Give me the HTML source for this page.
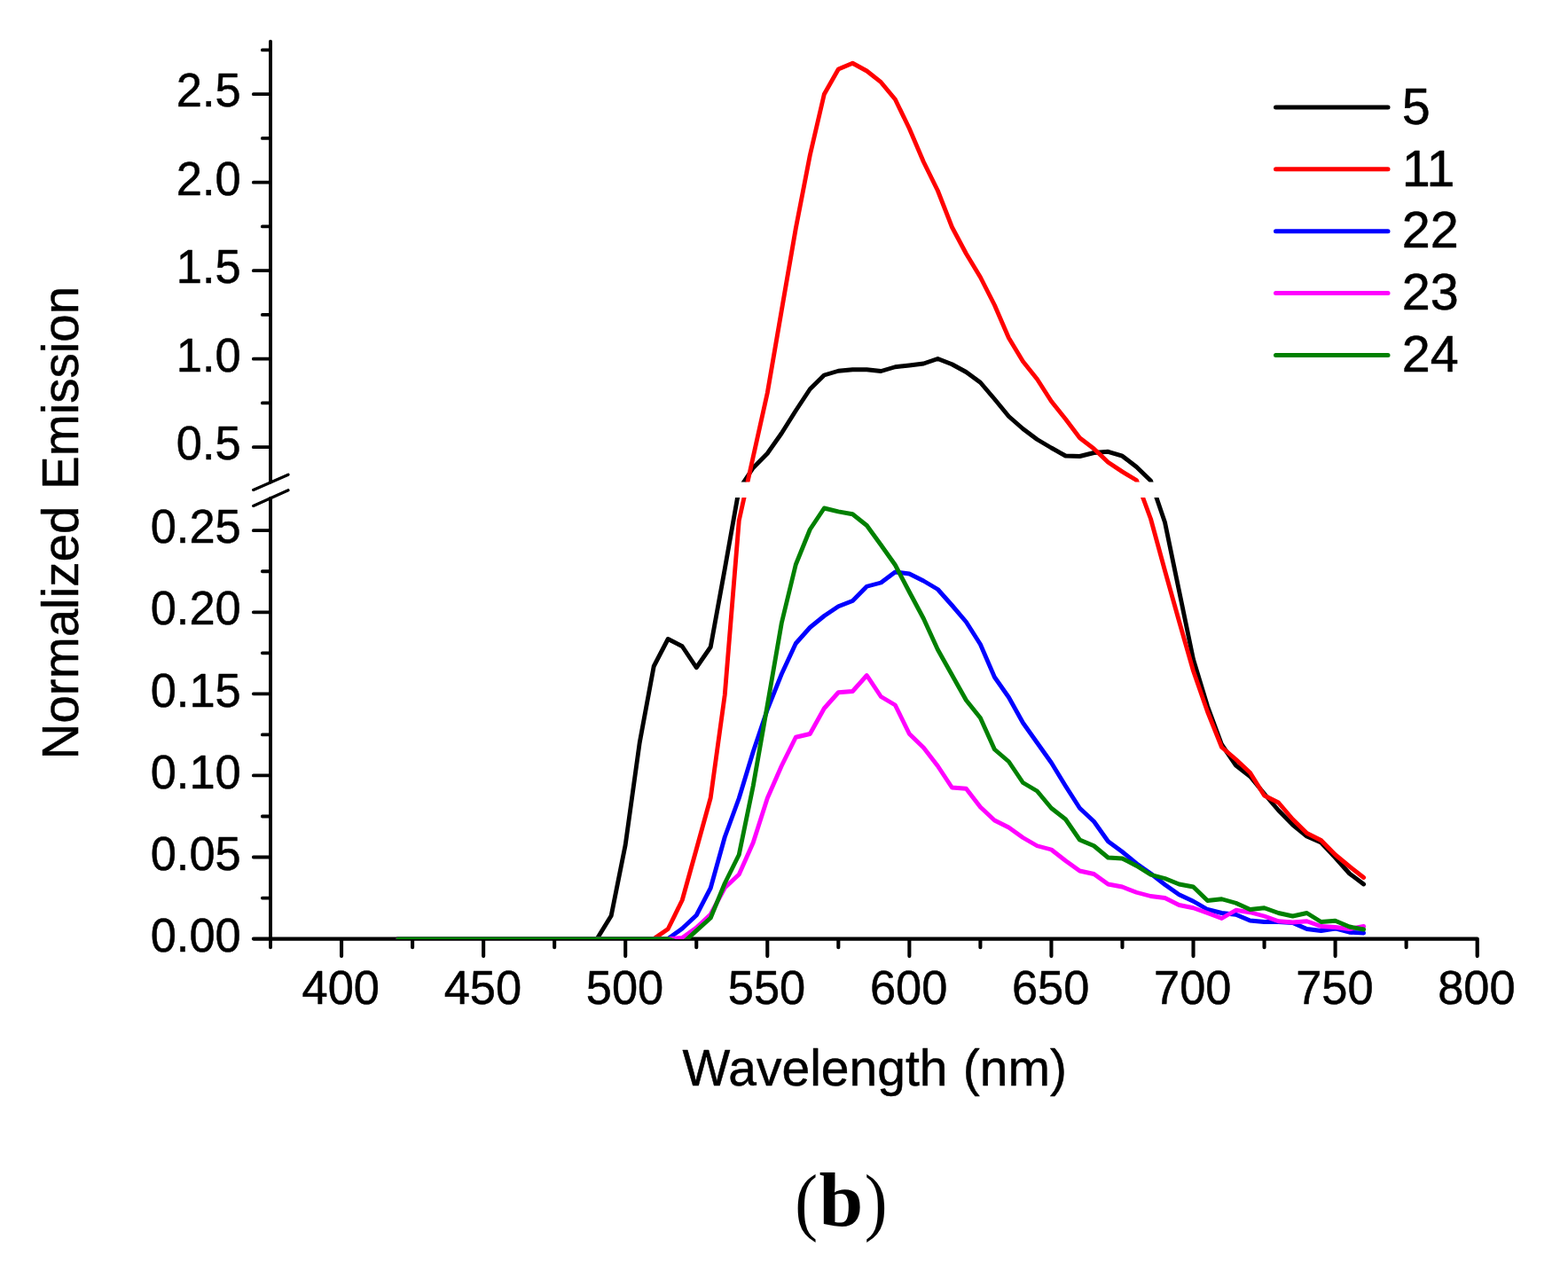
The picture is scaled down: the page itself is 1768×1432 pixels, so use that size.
<!DOCTYPE html>
<html lang="en">
<head>
<meta charset="utf-8">
<title>Normalized Emission vs Wavelength (b)</title>
<style>
html,body{margin:0;padding:0;background:#fff;}
body{width:1768px;height:1432px;overflow:hidden;}
svg{display:block;}
.t{font-family:"Liberation Sans",sans-serif;fill:#000;stroke:#000;stroke-width:0.5px;stroke-linejoin:round;}
.s{font-family:"Liberation Serif","DejaVu Serif",serif;fill:#000;}
.c{fill:none;stroke-width:4.9;stroke-linejoin:round;stroke-linecap:round;}
.a{fill:none;stroke:#000;stroke-width:3.9;stroke-linecap:round;stroke-linejoin:round;}
.k{fill:none;stroke:#000;stroke-width:3.8;stroke-linecap:round;}
</style>
</head>
<body>
<svg width="1768" height="1432" viewBox="0 0 1768 1432">
<rect x="0" y="0" width="1768" height="1432" fill="#ffffff"/>
<defs><clipPath id="plot"><rect x="300" y="40" width="1370" height="503.6"/><rect x="300" y="560.9" width="1370" height="498.1"/></clipPath></defs>
<g id="axes">
<path class="a" d="M305,46.6V543.5 M305,561.6V1068.2"/>
<path class="a" style="stroke-width:4.2" d="M285.9,1058.6H1665.7V1078.1"/>
<path class="k" d="M285.8,106.2H304 M285.8,205.7H304 M285.8,305.2H304 M285.8,404.7H304 M285.8,504.2H304 M285.8,598.2H304 M285.8,690.28H304 M285.8,782.36H304 M285.8,874.44H304 M285.8,966.52H304 M295.8,56.45H304 M295.8,155.95H304 M295.8,255.45H304 M295.8,354.95H304 M295.8,454.45H304 M295.8,644.24H304 M295.8,736.32H304 M295.8,828.4H304 M295.8,920.48H304 M295.8,1012.56H304"/>
<path class="k" style="stroke-width:4.1" d="M385.04,1059.6V1078.1 M545.12,1059.6V1078.1 M705.2,1059.6V1078.1 M865.28,1059.6V1078.1 M1025.36,1059.6V1078.1 M1185.44,1059.6V1078.1 M1345.52,1059.6V1078.1 M1505.6,1059.6V1078.1 M465.08,1059.6V1068.2 M625.16,1059.6V1068.2 M785.24,1059.6V1068.2 M945.32,1059.6V1068.2 M1105.4,1059.6V1068.2 M1265.48,1059.6V1068.2 M1425.56,1059.6V1068.2 M1585.64,1059.6V1068.2"/>
</g>
<g id="curves" clip-path="url(#plot)">
<polyline class="c" stroke="#000000" points="449.07,1058.6 465.08,1058.6 481.09,1058.6 497.1,1058.6 513.1,1058.6 529.11,1058.6 545.12,1058.6 561.13,1058.6 577.14,1058.6 593.14,1058.6 609.15,1058.6 625.16,1058.6 641.17,1058.6 657.18,1058.6 673.18,1058.6 689.19,1032.5 705.2,952.5 721.21,837.5 737.22,751.25 753.22,720.5 769.23,728.75 785.24,752.75 801.25,729.5 817.26,641.5 833.26,551.5 849.27,527.5 865.28,511.25 881.29,488.5 897.3,463 913.3,438.75 929.31,423 945.32,418.25 961.33,416.75 977.34,416.75 993.34,418.5 1009.35,413.75 1025.36,412 1041.37,410 1057.38,404.5 1073.38,410.75 1089.39,419.5 1105.4,431.25 1121.41,450 1137.42,469.5 1153.42,483.5 1169.43,495.5 1185.44,505 1201.45,514 1217.46,514.5 1233.46,510.5 1249.47,509.3 1265.48,514.2 1281.49,526.5 1297.5,542.1 1313.5,589 1329.51,666.25 1345.52,743.5 1361.53,796.25 1377.54,839.5 1393.54,863 1409.55,875.5 1425.56,895 1441.57,913.75 1457.58,930 1473.58,943 1489.59,950 1505.6,967 1521.61,985 1537.62,997"/>
<polyline class="c" stroke="#ff0000" points="449.07,1058.6 465.08,1058.6 481.09,1058.6 497.1,1058.6 513.1,1058.6 529.11,1058.6 545.12,1058.6 561.13,1058.6 577.14,1058.6 593.14,1058.6 609.15,1058.6 625.16,1058.6 641.17,1058.6 657.18,1058.6 673.18,1058.6 689.19,1058.6 705.2,1058.6 721.21,1058.6 737.22,1058.6 753.22,1047.5 769.23,1015 785.24,957.5 801.25,899.5 817.26,783.5 833.26,587 849.27,515 865.28,443 881.29,350 897.3,257.5 913.3,175 929.31,106.25 945.32,78 961.33,71.25 977.34,80 993.34,92.7 1009.35,112 1025.36,145 1041.37,182.5 1057.38,215 1073.38,256 1089.39,286 1105.4,312.5 1121.41,344 1137.42,381 1153.42,407.5 1169.43,427.5 1185.44,452.5 1201.45,472.5 1217.46,493.75 1233.46,506 1249.47,521.25 1265.48,531.9 1281.49,541.5 1297.5,585 1313.5,643.5 1329.51,700.5 1345.52,756.5 1361.53,802.5 1377.54,842.5 1393.54,856.25 1409.55,871.25 1425.56,897 1441.57,905 1457.58,923.75 1473.58,939.5 1489.59,947.5 1505.6,963.75 1521.61,977 1537.62,989.5"/>
<polyline class="c" stroke="#0000ff" points="449.07,1058.6 465.08,1058.6 481.09,1058.6 497.1,1058.6 513.1,1058.6 529.11,1058.6 545.12,1058.6 561.13,1058.6 577.14,1058.6 593.14,1058.6 609.15,1058.6 625.16,1058.6 641.17,1058.6 657.18,1058.6 673.18,1058.6 689.19,1058.6 705.2,1058.6 721.21,1058.6 737.22,1058.6 753.22,1058.6 769.23,1047 785.24,1032 801.25,1001.25 817.26,943.75 833.26,900 849.27,847.5 865.28,800 881.29,760 897.3,725.5 913.3,707.5 929.31,694.5 945.32,683.75 961.33,677.5 977.34,661.25 993.34,657 1009.35,645 1025.36,647 1041.37,655 1057.38,664.5 1073.38,682.5 1089.39,701.25 1105.4,726.5 1121.41,763.5 1137.42,786.25 1153.42,815 1169.43,837.5 1185.44,860 1201.45,886.25 1217.46,911.25 1233.46,926.25 1249.47,948.75 1265.48,960.5 1281.49,973.75 1297.5,985 1313.5,997.5 1329.51,1008.75 1345.52,1016.25 1361.53,1025.5 1377.54,1029.5 1393.54,1031.25 1409.55,1038 1425.56,1039.5 1441.57,1039.5 1457.58,1040.5 1473.58,1047.5 1489.59,1049.5 1505.6,1047 1521.61,1051.25 1537.62,1052"/>
<polyline class="c" stroke="#ff00ff" points="449.07,1058.6 465.08,1058.6 481.09,1058.6 497.1,1058.6 513.1,1058.6 529.11,1058.6 545.12,1058.6 561.13,1058.6 577.14,1058.6 593.14,1058.6 609.15,1058.6 625.16,1058.6 641.17,1058.6 657.18,1058.6 673.18,1058.6 689.19,1058.6 705.2,1058.6 721.21,1058.6 737.22,1058.6 753.22,1058.6 769.23,1057.5 785.24,1046 801.25,1031 817.26,1001 833.26,986 849.27,950 865.28,900 881.29,863.5 897.3,831.25 913.3,827.5 929.31,798.75 945.32,780.75 961.33,779.5 977.34,761.5 993.34,785.5 1009.35,795 1025.36,827.5 1041.37,843 1057.38,863.75 1073.38,888 1089.39,889.25 1105.4,910 1121.41,925 1137.42,933 1153.42,944.5 1169.43,953.75 1185.44,958 1201.45,970.5 1217.46,982 1233.46,985.5 1249.47,997 1265.48,1000 1281.49,1006.25 1297.5,1010.5 1313.5,1012.5 1329.51,1020.5 1345.52,1023.75 1361.53,1029.5 1377.54,1035.5 1393.54,1026.25 1409.55,1028.75 1425.56,1033 1441.57,1038.75 1457.58,1040 1473.58,1038.75 1489.59,1044.5 1505.6,1045.5 1521.61,1047.5 1537.62,1044.5"/>
<polyline class="c" stroke="#008000" points="449.07,1058.6 465.08,1058.6 481.09,1058.6 497.1,1058.6 513.1,1058.6 529.11,1058.6 545.12,1058.6 561.13,1058.6 577.14,1058.6 593.14,1058.6 609.15,1058.6 625.16,1058.6 641.17,1058.6 657.18,1058.6 673.18,1058.6 689.19,1058.6 705.2,1058.6 721.21,1058.6 737.22,1058.6 753.22,1058.6 769.23,1064 785.24,1049.4 801.25,1035 817.26,996 833.26,963.75 849.27,886 865.28,795 881.29,702.5 897.3,636.5 913.3,597 929.31,573 945.32,576.8 961.33,579.75 977.34,592.5 993.34,614.5 1009.35,637 1025.36,667.5 1041.37,697.5 1057.38,732.5 1073.38,761 1089.39,789.5 1105.4,809.5 1121.41,845 1137.42,858.75 1153.42,882.5 1169.43,892 1185.44,911.25 1201.45,923.75 1217.46,947 1233.46,953.75 1249.47,967 1265.48,968 1281.49,976.25 1297.5,986.25 1313.5,990.5 1329.51,997 1345.52,1000 1361.53,1015.5 1377.54,1013.75 1393.54,1018.25 1409.55,1025.5 1425.56,1023.75 1441.57,1029.5 1457.58,1033 1473.58,1029.5 1489.59,1039.5 1505.6,1038.25 1521.61,1045 1537.62,1048"/>
</g>
<path id="axis-break" d="M285.6,552.4L325,535.2 M285.6,570.4L325,552.8" fill="none" stroke="#000" stroke-width="3.3" stroke-linecap="round"/>
<g id="ylabels" class="t" font-size="52.4" text-anchor="end">
<text transform="translate(271.7,120.4) scale(1,1.02)">2.5</text>
<text transform="translate(271.7,219.9) scale(1,1.02)">2.0</text>
<text transform="translate(271.7,319.4) scale(1,1.02)">1.5</text>
<text transform="translate(271.7,418.9) scale(1,1.02)">1.0</text>
<text transform="translate(271.7,518.4) scale(1,1.02)">0.5</text>
<text transform="translate(271.7,612.4) scale(1,1.02)">0.25</text>
<text transform="translate(271.7,704.48) scale(1,1.02)">0.20</text>
<text transform="translate(271.7,796.56) scale(1,1.02)">0.15</text>
<text transform="translate(271.7,888.64) scale(1,1.02)">0.10</text>
<text transform="translate(271.7,980.72) scale(1,1.02)">0.05</text>
<text transform="translate(271.7,1072.8) scale(1,1.02)">0.00</text>
</g>
<g id="xlabels" class="t" font-size="52.4" text-anchor="middle">
<text transform="translate(384.29,1132.2) scale(1,1.02)">400</text>
<text transform="translate(544.37,1132.2) scale(1,1.02)">450</text>
<text transform="translate(704.45,1132.2) scale(1,1.02)">500</text>
<text transform="translate(864.53,1132.2) scale(1,1.02)">550</text>
<text transform="translate(1024.61,1132.2) scale(1,1.02)">600</text>
<text transform="translate(1184.69,1132.2) scale(1,1.02)">650</text>
<text transform="translate(1344.77,1132.2) scale(1,1.02)">700</text>
<text transform="translate(1504.85,1132.2) scale(1,1.02)">750</text>
<text transform="translate(1664.93,1132.2) scale(1,1.02)">800</text>
</g>
<text class="t" font-size="57" text-anchor="middle" word-spacing="1.5" x="986.3" y="1224.2">Wavelength (nm)</text>
<text class="t" font-size="56.5" text-anchor="middle" word-spacing="3" transform="translate(87.7,589.6) rotate(-90)">Normalized Emission</text>
<g id="legend">
<line x1="1438.5" y1="121" x2="1565" y2="121" stroke="#000000" stroke-width="5" stroke-linecap="round"/>
<text class="t" font-size="57.5" x="1580.7" y="139.7">5</text>
<line x1="1438.5" y1="190.85" x2="1565" y2="190.85" stroke="#ff0000" stroke-width="5" stroke-linecap="round"/>
<text class="t" font-size="57.5" x="1580.7" y="209.55">11</text>
<line x1="1438.5" y1="260.7" x2="1565" y2="260.7" stroke="#0000ff" stroke-width="5" stroke-linecap="round"/>
<text class="t" font-size="57.5" x="1580.7" y="279.4">22</text>
<line x1="1438.5" y1="330.55" x2="1565" y2="330.55" stroke="#ff00ff" stroke-width="5" stroke-linecap="round"/>
<text class="t" font-size="57.5" x="1580.7" y="349.25">23</text>
<line x1="1438.5" y1="400.4" x2="1565" y2="400.4" stroke="#008000" stroke-width="5" stroke-linecap="round"/>
<text class="t" font-size="57.5" x="1580.7" y="419.1">24</text>
</g>
<g id="panel-label" class="s" font-size="86">
<text transform="translate(896.3,1383) scale(0.9,0.99)">(</text>
<text font-weight="bold" transform="translate(923.4,1382.3) scale(1.04,1)">b</text>
<text transform="translate(974.7,1383) scale(0.9,0.99)">)</text>
</g>
</svg>
</body>
</html>
